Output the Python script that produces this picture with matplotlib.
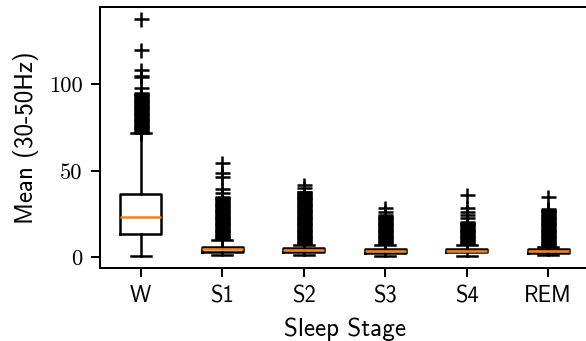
import matplotlib
matplotlib.use("Agg")
import matplotlib.pyplot as plt

# stage names on the x axis
stages = ["W", "S1", "S2", "S3", "S4", "REM"]

# box statistics
medians = [23.1, 4.8, 4.2, 3.6, 3.8, 3.8]
q1 = [13.3, 3.2, 3.2, 2.7, 2.9, 2.7]
q3 = [36.4, 6.1, 5.4, 4.6, 5.0, 4.8]
whis_lo = [0.75, 1.3, 1.3, 0.9, 0.9, 1.3]
whis_hi = [71.8, 10.0, 7.1, 7.1, 7.1, 6.1]

# outliers (the solid runs are written out about half a unit apart)
fliers_w = [72, 72.5, 73, 73.5, 74, 74.5, 75, 75.5, 76, 76.5, 77, 77.5, 78,
            78.5, 79, 79.5, 80, 80.5, 81, 81.5, 82, 82.5, 83, 83.5, 84, 84.5,
            85, 85.5, 86, 86.5, 87, 87.5, 88, 88.5, 89, 89.5, 90, 90.5, 91,
            91.5, 92, 92.5, 93, 93.5, 94, 94.5, 95,
            97.7, 104, 104.8, 108, 119.4, 137.6]
fliers_s1 = [10.5, 11, 11.5, 12, 12.5, 13, 13.5, 14, 14.5, 15, 15.5, 16, 16.5,
             17, 17.5, 18, 18.5, 19, 19.5, 20, 20.5, 21, 21.5, 22, 22.5, 23,
             23.5, 24, 24.5, 25, 25.5, 26, 26.5, 27, 27.5, 28, 28.5, 29, 29.5,
             30, 30.5, 31, 31.5, 32, 32.5, 33, 33.5, 34, 34.5, 35,
             37.3, 39.3, 46.6, 48.9, 54.3]
fliers_s2 = [7.5, 8, 8.5, 9, 9.5, 10, 10.5, 11, 11.5, 12, 12.5, 13, 13.5, 14,
             14.5, 15, 15.5, 16, 16.5, 17, 17.5, 18, 18.5, 19, 19.5, 20, 20.5,
             21, 21.5, 22, 22.5, 23, 23.5, 24, 24.5, 25, 25.5, 26, 26.5, 27,
             27.5, 28, 28.5, 29, 29.5, 30, 30.5, 31, 31.5, 32, 32.5, 33, 33.5,
             34, 34.5, 35, 35.5, 36, 36.5, 37, 37.5, 38, 40.3, 41.8]
fliers_s3 = [7.5, 8, 8.5, 9, 9.5, 10, 10.5, 11, 11.5, 12, 12.5, 13, 13.5, 14,
             14.5, 15, 15.5, 16, 16.5, 17, 17.5, 18, 18.5, 19, 19.5, 20, 20.5,
             21, 21.5, 22, 22.5, 23, 23.5, 24, 24.5, 26.4, 28.3]
fliers_s4 = [7.5, 8, 8.5, 9, 9.5, 10, 10.5, 11, 11.5, 12, 12.5, 13, 13.5, 14,
             14.5, 15, 15.5, 16, 16.5, 17, 17.5, 18, 18.5, 19, 19.5, 20, 20.5,
             22.5, 24.5, 26.4, 28.3, 36.0]
fliers_rem = [6.5, 7, 7.5, 8, 8.5, 9, 9.5, 10, 10.5, 11, 11.5, 12, 12.5, 13,
              13.5, 14, 14.5, 15, 15.5, 16, 16.5, 17, 17.5, 18, 18.5, 19, 19.5,
              20, 20.5, 21, 21.5, 22, 22.5, 23, 23.5, 24, 24.5, 25, 25.5, 26,
              26.5, 27, 27.5, 28, 35.0]
fliers = [fliers_w, fliers_s1, fliers_s2, fliers_s3, fliers_s4, fliers_rem]

stats = []
for i, name in enumerate(stages):
    stats.append({
        'label': name,
        'med': medians[i],
        'q1': q1[i],
        'q3': q3[i],
        'whislo': whis_lo[i],
        'whishi': whis_hi[i],
        'fliers': fliers[i],
    })

fig = plt.figure(figsize=(586 / 180, 341 / 180), dpi=180)
ax = fig.add_axes([100 / 586, 73 / 341, 489 / 586, 261 / 341])

ax.bxp(stats, flierprops=dict(marker='+', markeredgecolor='black'))

ax.set_yticks([0, 50, 100])
ax.set_yticklabels(['0', '50', '100'], fontfamily='cmr10', fontsize=9)
ax.set_xticklabels(stages, fontfamily='cmss10', fontsize=9)
ax.set_xlabel('Sleep Stage', fontfamily='cmss10', fontsize=10)
ax.set_ylabel('Mean (30-50Hz)', fontfamily='cmss10', fontsize=10)

fig.savefig('out.png', dpi=180)
